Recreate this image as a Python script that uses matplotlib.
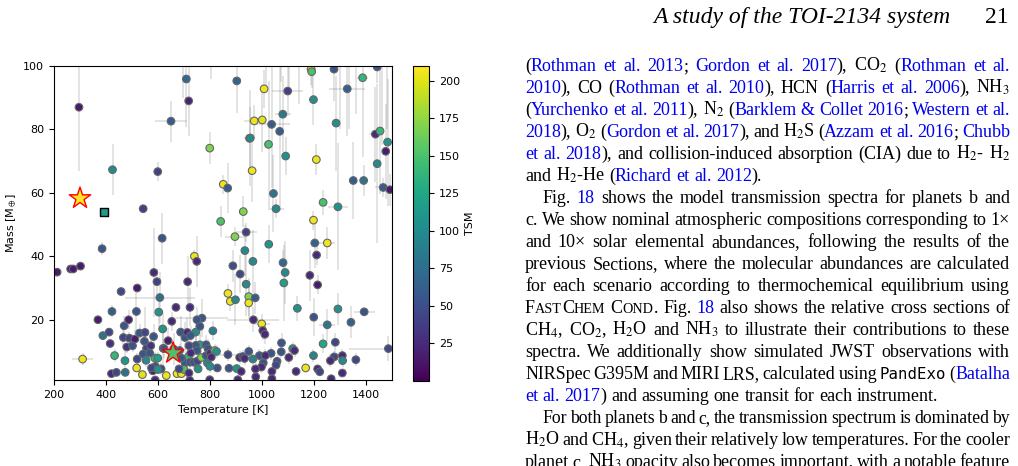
import matplotlib
matplotlib.use("Agg")
import matplotlib.pyplot as plt
import numpy as np
from matplotlib.colors import Normalize
from matplotlib.transforms import IdentityTransform

plt.rcParams["font.size"] = 8
plt.rcParams["mathtext.fontset"] = "stix"

# known planets: equilibrium temperature [K], mass [M_earth], TSM and 1-sigma errors
# (split by region of the diagram just to keep the lists short)
temp_hi = [296, 425, 543, 599, 650, 709, 718, 799, 903, 851,
           868, 841, 928, 939, 952, 1189, 1191, 1277, 1443, 1387,
           1008, 1099, 1328, 1198, 1080, 970, 1001, 1037, 1068, 1285,
           955, 1025, 1091, 1209, 1436, 1454, 1483, 1476, 1443, 962,
           1351, 1391, 1466, 1492, 1044, 1054, 1235, 1292, 1198]
mass_hi = [87.0, 67.3, 55.0, 66.7, 82.6, 95.9, 89.0, 74.1, 95.3, 62.7,
           61.5, 51.0, 54.1, 47.6, 77.2, 99.0, 98.2, 99.0, 99.7, 96.3,
           92.8, 92.1, 92.8, 89.4, 84.8, 82.7, 83.0, 81.6, 79.4, 82.0,
           77.3, 75.3, 71.6, 70.5, 78.5, 79.5, 76.0, 73.1, 69.2, 67.0,
           63.9, 63.9, 61.7, 61.0, 59.8, 55.0, 57.0, 55.6, 51.4]
tsm_hi = [15, 100, 40, 40, 60, 70, 20, 170, 65, 205,
          60, 150, 170, 40, 100, 205, 150, 55, 55, 140,
          205, 40, 65, 105, 85, 205, 200, 60, 60, 105,
          100, 150, 105, 205, 25, 140, 110, 15, 100, 205,
          60, 80, 60, 15, 80, 100, 150, 105, 205]
terr_hi = [10, 0, 0, 0, 60, 0, 0, 0, 0, 0,
           0, 0, 15, 40, 20, 20, 0, 0, 0, 20,
           0, 60, 70, 0, 30, 40, 0, 70, 0, 0,
           0, 0, 0, 0, 25, 0, 0, 0, 0, 0,
           0, 0, 30, 0, 0, 30, 0, 40, 0]
merr_hi = [20, 8, 0, 3, 6.5, 15, 11, 5, 10, 3,
           8, 5, 5, 3, 10, 5, 5, 10, 5, 25,
           6, 8, 15, 8, 12, 5, 10, 20, 25, 15,
           15, 20, 6, 5, 15, 20, 20, 15, 25, 10,
           12, 5, 3, 5, 12, 3, 4, 20, 3]

temp_mid = [212, 264, 274, 302, 385, 616, 740, 749, 896, 584,
            596, 714, 458, 520, 607, 669, 723, 369, 423, 517,
            603, 388, 412, 416, 470, 487, 467, 490, 511, 480,
            502, 529, 550, 583, 548, 556, 572, 618, 653, 620,
            639, 660, 687, 704, 713, 745, 725, 761, 769, 750,
            811]
mass_mid = [35.0, 36.0, 36.0, 36.9, 42.4, 45.7, 40.0, 38.4, 46.2, 34.9,
            32.0, 32.0, 28.9, 30.0, 27.0, 23.9, 23.9, 20.0, 22.6, 22.6,
            22.4, 15.0, 16.1, 12.5, 18.1, 20.0, 14.4, 14.2, 13.9, 11.4,
            11.8, 15.8, 16.0, 14.7, 13.2, 11.0, 11.8, 17.1, 19.5, 11.0,
            13.4, 10.8, 16.1, 14.4, 16.0, 16.1, 15.0, 17.9, 20.5, 20.0,
            16.5]
tsm_mid = [15, 15, 15, 15, 55, 55, 205, 25, 170, 25,
           40, 25, 45, 15, 75, 25, 25, 15, 60, 55,
           110, 80, 45, 30, 55, 15, 45, 45, 15, 30,
           55, 55, 45, 55, 55, 45, 30, 110, 25, 55,
           15, 45, 55, 55, 25, 100, 55, 55, 55, 55,
           90]
terr_mid = [0, 0, 0, 0, 0, 0, 0, 0, 40, 0,
            0, 0, 0, 0, 135, 0, 0, 0, 0, 0,
            0, 0, 0, 0, 0, 0, 0, 0, 0, 0,
            0, 0, 0, 0, 0, 0, 0, 0, 0, 0,
            0, 0, 0, 0, 0, 0, 0, 0, 100, 0,
            0]
merr_mid = [0, 0, 0, 0, 2, 8, 2, 8, 3, 14,
            4, 8, 0, 0, 8, 0, 6, 0, 2, 6,
            6, 1, 1, 1, 3, 3, 3, 2, 3, 2,
            2, 3, 8, 4, 4, 3, 2, 5, 3, 6,
            4, 5, 5, 5, 5, 5, 3, 3, 6, 4,
            3]

temp_lo = [433, 473, 310, 520, 543, 518, 540, 474, 421, 440,
           554, 588, 590, 599, 580, 612, 632, 623, 671, 673,
           690, 704, 717, 700, 723, 737, 752, 767, 785, 790,
           761, 745, 785, 792, 801, 818, 825, 800, 828, 869,
           873, 903, 914]
mass_lo = [8.7, 7.1, 7.6, 7.6, 9.2, 4.8, 2.7, 3.4, 3.0, 3.4,
           7.2, 7.9, 5.3, 7.9, 3.9, 4.5, 2.4, 10.9, 9.0, 3.0,
           3.0, 6.4, 8.4, 4.3, 6.6, 6.6, 7.0, 8.1, 8.7, 6.4,
           12.1, 11.9, 12.1, 10.9, 9.5, 10.3, 10.0, 5.3, 4.8, 9.0,
           4.7, 4.6, 8.1]
tsm_lo = [140, 110, 205, 45, 55, 205, 200, 80, 25, 45,
          100, 140, 55, 120, 15, 45, 205, 55, 150, 205,
          205, 55, 140, 150, 55, 55, 45, 170, 55, 95,
          120, 55, 55, 55, 25, 170, 110, 105, 55, 45,
          55, 110, 25]
terr_lo = [0, 0, 40, 0, 0, 0, 0, 0, 0, 0,
           0, 0, 0, 0, 0, 0, 0, 0, 0, 0,
           0, 0, 0, 0, 0, 0, 0, 0, 0, 0,
           0, 0, 0, 0, 0, 0, 0, 0, 0, 40,
           0, 0, 0]
merr_lo = [2, 3, 2, 2, 2, 1, 1, 1, 1, 1,
           2, 2, 2, 2, 1, 2, 1, 3, 2, 1,
           1, 2, 2, 2, 2, 2, 2, 2, 2, 2,
           3, 3, 3, 3, 2, 2, 2, 2, 1, 2,
           1, 1, 2]

temp_hot = [888, 916, 934, 939, 869, 878, 898, 949, 949, 1026,
            1203, 1251, 1210, 965, 1081, 1089, 1184, 1084, 1214, 974,
            1136, 1292, 1199, 1393, 1342, 1251, 967, 999, 1003, 1011,
            1075, 1118, 1125, 1235, 1282, 1486, 949, 1035, 1074, 990,
            1013, 965, 926, 1103, 1198, 1278, 1309, 1310, 1263, 1361,
            1005, 1058, 1054, 998, 975, 920, 1038, 1131, 1168, 1214,
            1222, 1309, 976, 1038, 1266]
mass_hot = [37.0, 34.4, 41.8, 31.2, 28.3, 25.8, 26.3, 27.3, 25.3, 43.8,
            44.2, 44.2, 40.4, 38.4, 38.0, 34.9, 34.0, 31.6, 31.0, 26.9,
            23.6, 23.4, 20.8, 22.5, 19.2, 18.4, 20.0, 18.7, 16.6, 15.4,
            12.7, 10.9, 10.3, 12.4, 12.9, 10.9, 10.0, 9.4, 9.9, 8.7,
            8.7, 7.6, 8.4, 8.1, 8.7, 8.3, 8.7, 7.1, 7.1, 7.4,
            6.4, 6.9, 5.7, 5.1, 4.5, 3.7, 3.7, 3.7, 4.8, 4.5,
            3.6, 3.2, 2.0, 1.4, 1.4]
tsm_hot = [50, 45, 100, 100, 205, 205, 100, 170, 205, 110,
           65, 205, 25, 100, 70, 100, 25, 120, 15, 60,
           105, 105, 55, 55, 65, 85, 25, 205, 25, 25,
           55, 110, 25, 125, 45, 45, 55, 55, 55, 55,
           25, 95, 45, 25, 95, 45, 25, 100, 25, 45,
           55, 55, 45, 25, 25, 25, 25, 25, 205, 25,
           45, 25, 25, 25, 25]
terr_hot = [0, 0, 0, 0, 0, 0, 0, 0, 0, 0,
            20, 30, 0, 0, 0, 0, 0, 0, 0, 0,
            0, 0, 0, 40, 0, 30, 100, 30, 0, 0,
            0, 0, 0, 0, 0, 150, 0, 0, 0, 0,
            0, 0, 0, 0, 0, 0, 0, 0, 0, 0,
            0, 0, 0, 0, 0, 0, 0, 0, 0, 0,
            0, 0, 0, 0, 0]
merr_hot = [5, 6, 8, 10, 3, 3, 8, 6, 5, 6,
            8, 5, 3, 10, 4, 10, 8, 12, 3, 5,
            4, 5, 6, 1, 5, 5, 4, 3, 3, 3,
            3, 2, 2, 3, 3, 4, 2, 2, 2, 2,
            2, 2, 2, 2, 2, 2, 2, 2, 2, 2,
            2, 2, 2, 2, 2, 1, 1, 1, 1, 1,
            1, 1, 1, 1, 1]

temp_extra = [719, 750, 726, 805, 568, 683, 690, 754, 575, 600,
              681, 719, 589, 722, 799, 907, 933]
mass_extra = [11.8, 10.3, 9.5, 8.2, 9.5, 10.3, 7.9, 4.5, 4.8, 4.3,
              4.5, 3.2, 1.0, 0.9, 1.1, 1.1, 7.8]
tsm_extra = [45, 55, 25, 25, 55, 55, 55, 105, 45, 105,
             45, 25, 25, 25, 25, 25, 25]
terr_extra = [0] * 17
merr_extra = [2, 2, 2, 2, 2, 2, 2, 1, 1, 1,
              1, 1, 1, 1, 1, 1, 2]

# planets above the plotted mass range; only their error bars reach in
temp_off = [695, 802, 1015, 1074, 1102, 1144, 1300, 1335, 1360, 1460, 1480]
mass_off = [110, 108, 112, 110, 118, 108, 120, 115, 125, 125, 110]
tsm_off = [50] * 11
terr_off = [0] * 11
merr_off = [20, 12, 20, 15, 25, 20, 40, 35, 40, 50, 30]

# TOI-2134 c and b (stars) and the comparison planet (square)
star_temp = [300, 658]
star_mass = [58.3, 9.5]
star_tsm = [210, 150]
square_temp = [393]
square_mass = [54.1]
square_tsm = [115]

temp = np.array(temp_hi + temp_mid + temp_lo + temp_hot + temp_extra + temp_off, float)
mass = np.array(mass_hi + mass_mid + mass_lo + mass_hot + mass_extra + mass_off, float)
tsm = np.array(tsm_hi + tsm_mid + tsm_lo + tsm_hot + tsm_extra + tsm_off, float)
terr = np.array(terr_hi + terr_mid + terr_lo + terr_hot + terr_extra + terr_off, float)
merr = np.array(merr_hi + merr_mid + merr_lo + merr_hot + merr_extra + merr_off, float)
assert len(temp) == len(mass) == len(tsm) == len(terr) == len(merr)

# page text next to the figure: [..] = citation link, {..} = small caps, `..` = typewriter
BODY = [
    ("([Rothman et al. 2013]; [Gordon et al. 2017]), CO$_2$ ([Rothman et al.]", 0, True),
    ("[2010]), CO ([Rothman et al. 2010]), HCN ([Harris et al. 2006]), NH$_3$", 0, True),
    ("([Yurchenko et al. 2011]), N$_2$ ([Barklem & Collet 2016]; [Western et al.]", 0, True),
    ("[2018]), O$_2$ ([Gordon et al. 2017]), and H$_2$S ([Azzam et al. 2016]; [Chubb]", 0, True),
    ("[et al. 2018]), and collision-induced absorption (CIA) due to H$_2$- H$_2$", 0, True),
    ("and H$_2$-He ([Richard et al. 2012]).", 0, False),
    ("Fig. [18] shows the model transmission spectra for planets b and", 1, True),
    ("c. We show nominal atmospheric compositions corresponding to 1×", 0, True),
    ("and 10× solar elemental abundances, following the results of the", 0, True),
    ("previous Sections, where the molecular abundances are calculated", 0, True),
    ("for each scenario according to thermochemical equilibrium using", 0, True),
    ("F{AST}C{HEM} C{OND}. Fig. [18] also shows the relative cross sections of", 0, True),
    ("CH$_4$, CO$_2$, H$_2$O and NH$_3$ to illustrate their contributions to these", 0, True),
    ("spectra. We additionally show simulated JWST observations with", 0, True),
    ("NIRSpec G395M and MIRI LRS, calculated using `PandExo` ([Batalha]", 0, True),
    ("[et al. 2017]) and assuming one transit for each instrument.", 0, False),
    ("For both planets b and c, the transmission spectrum is dominated by", 1, True),
    ("H$_2$O and CH$_4$, given their relatively low temperatures. For the cooler", 0, True),
    ("planet c, NH$_3$ opacity also becomes important, with a notable feature", 0, True),
]
HEADER = "A study of the TOI-2134 system"
PAGE = "21"


def split_words(line):
    words, segs, buf = [], [], ""
    blue = small = mono = False

    def flush():
        nonlocal buf
        if buf:
            segs.append((buf, blue, small, mono))
            buf = ""

    for ch in line:
        if ch in "[]{}`":
            flush()
            if ch == "[":
                blue = True
            elif ch == "]":
                blue = False
            elif ch == "{":
                small = True
            elif ch == "}":
                small = False
            else:
                mono = not mono
        elif ch == " ":
            flush()
            if segs:
                words.append(segs)
                segs = []
        else:
            buf += ch
    flush()
    if segs:
        words.append(segs)
    return words


def make_words(fig, renderer, words, y, size):
    placed, widths = [], []
    for word in words:
        parts, ww = [], 0.0
        for text, blue, small, mono in word:
            t = fig.text(0, y, text, transform=IdentityTransform(), va="baseline",
                         family="DejaVu Sans Mono" if mono else "Liberation Serif",
                         size=size * (0.78 if small else 0.88 if mono else 1.0),
                         color="#0000ee" if blue else "black")
            w = t.get_window_extent(renderer).width
            parts.append((t, w))
            ww += w
        placed.append(parts)
        widths.append(ww)
    return placed, widths


def set_line(fig, renderer, line, y, x0, x1, justify, size):
    words = split_words(line)
    space = 0.25 * size * fig.dpi / 72
    placed, widths = make_words(fig, renderer, words, y, size)
    n_gaps = max(len(words) - 1, 1)
    # over-full line: shrink the type a little, as a tight TeX line would look
    if justify and (x1 - x0 - sum(widths)) / n_gaps < 0.7 * space:
        for parts in placed:
            for t, _ in parts:
                t.remove()
        factor = (x1 - x0 - n_gaps * 0.7 * space) / sum(widths)
        placed, widths = make_words(fig, renderer, words, y, size * factor)
    gap = (x1 - x0 - sum(widths)) / n_gaps if justify else space
    x = x0
    for parts in placed:
        for t, w in parts:
            t.set_x(x)
            x += w
        x += gap


W, H = 1018, 466
fig = plt.figure(figsize=(W / 100, H / 100), dpi=100)

ax = fig.add_axes([54 / W, 1 - 380 / H, (392 - 54) / W, (380 - 66) / H])
norm = Normalize(vmin=0, vmax=210)
ax.errorbar(temp, mass, xerr=terr, yerr=merr, fmt="none", ecolor="0.55",
            elinewidth=1.4, alpha=0.25, zorder=1)
sc = ax.scatter(temp, mass, c=tsm, cmap="viridis", norm=norm, s=30,
                edgecolors="0.4", linewidths=0.8, zorder=2)
ax.scatter(square_temp, square_mass, c=square_tsm, cmap="viridis", norm=norm,
           marker="s", s=40, edgecolors="black", linewidths=1.0, zorder=3)
ax.scatter(star_temp, star_mass, c=star_tsm, cmap="viridis", norm=norm,
           marker="*", s=260, edgecolors="red", linewidths=1.0, zorder=4)
ax.set_xlim(200, 1500)
ax.set_ylim(1, 100)
ax.set_xticks([200, 400, 600, 800, 1000, 1200, 1400])
ax.set_yticks([20, 40, 60, 80, 100])
ax.set_xlabel("Temperature [K]")
ax.set_ylabel(r"Mass [M$_\oplus$]")

cax = fig.add_axes([413 / W, 1 - 380.7 / H, 16 / W, (380.7 - 66) / H])
cb = fig.colorbar(sc, cax=cax, ticks=[25, 50, 75, 100, 125, 150, 175, 200])
cb.set_label("TSM")

renderer = fig.canvas.get_renderer()
fig.text(950, H - 23, HEADER, transform=IdentityTransform(), ha="right", va="baseline",
         family="Liberation Serif", style="italic", size=17)
fig.text(1009, H - 23, PAGE, transform=IdentityTransform(), ha="right", va="baseline",
         family="Liberation Serif", size=17)

body_size = 13.0
for i, (line, indent, justify) in enumerate(BODY):
    y = H - (71 + 22.0 * i)
    set_line(fig, renderer, line, y, 525 + 17.5 * indent, 1010, justify, body_size)

fig.savefig("out.png", dpi=100)
